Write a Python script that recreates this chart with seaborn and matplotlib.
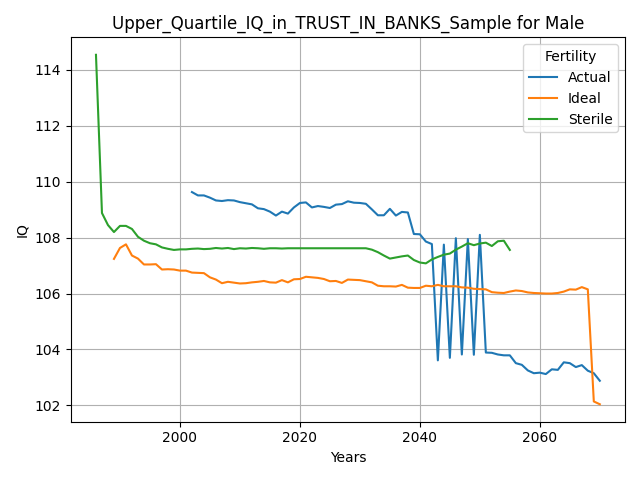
import matplotlib
matplotlib.use("Agg")
import matplotlib.pyplot as plt
import pandas as pd
import seaborn as sns

# values
actual_years = list(range(2002, 2071))
actual_iq = [109.63, 109.51, 109.51, 109.43, 109.33, 109.31, 109.34, 109.33, 109.27, 109.23,
             109.19, 109.05, 109.02, 108.93, 108.79, 108.93, 108.86, 109.08, 109.24, 109.26,
             109.08, 109.13, 109.10, 109.06, 109.18, 109.20, 109.30, 109.25, 109.24, 109.21,
             109.01, 108.80, 108.80, 109.03, 108.79, 108.92, 108.90, 108.13, 108.12, 107.86,
             107.77, 103.61, 107.75, 103.70, 107.98, 103.82, 107.95, 103.81, 108.10, 103.89,
             103.88, 103.82, 103.79, 103.79, 103.51, 103.45, 103.25, 103.15, 103.17, 103.12,
             103.29, 103.27, 103.54, 103.51, 103.37, 103.44, 103.24, 103.15, 102.88]

ideal_years = list(range(1989, 2071))
ideal_iq = [107.24, 107.63, 107.76, 107.36, 107.25, 107.04, 107.04, 107.05, 106.86, 106.87,
            106.86, 106.82, 106.82, 106.75, 106.74, 106.73, 106.58, 106.50, 106.37, 106.42,
            106.39, 106.36, 106.37, 106.40, 106.42, 106.45, 106.40, 106.39, 106.48, 106.40,
            106.51, 106.52, 106.60, 106.58, 106.56, 106.52, 106.44, 106.45, 106.38, 106.50,
            106.49, 106.48, 106.44, 106.40, 106.28, 106.26, 106.26, 106.25, 106.31, 106.21,
            106.20, 106.20, 106.28, 106.26, 106.31, 106.26, 106.26, 106.26, 106.22, 106.21,
            106.17, 106.16, 106.15, 106.05, 106.03, 106.02, 106.07, 106.11, 106.09, 106.04,
            106.02, 106.01, 106.00, 106.00, 106.02, 106.07, 106.15, 106.14, 106.23, 106.15,
            102.14, 102.04]

sterile_years = list(range(1986, 2056))
sterile_iq = [114.54, 108.88, 108.45, 108.20, 108.42, 108.42, 108.31, 108.03, 107.89, 107.80,
              107.76, 107.65, 107.60, 107.56, 107.58, 107.58, 107.60, 107.61, 107.59, 107.60,
              107.63, 107.61, 107.63, 107.59, 107.62, 107.61, 107.63, 107.62, 107.60, 107.62,
              107.62, 107.61, 107.62, 107.62, 107.62, 107.62, 107.62, 107.62, 107.62, 107.62,
              107.62, 107.62, 107.62, 107.62, 107.62, 107.62, 107.57, 107.48, 107.36, 107.25,
              107.29, 107.33, 107.36, 107.20, 107.11, 107.08, 107.22, 107.31, 107.39, 107.43,
              107.57, 107.68, 107.80, 107.73, 107.79, 107.82, 107.70, 107.87, 107.89, 107.56]

frames = []
for name, years, iq in [("Actual", actual_years, actual_iq),
                        ("Ideal", ideal_years, ideal_iq),
                        ("Sterile", sterile_years, sterile_iq)]:
    frames.append(pd.DataFrame({"Years": years, "IQ": iq, "Fertility": name}))
df = pd.concat(frames, ignore_index=True)

fig, ax = plt.subplots(figsize=(6.4, 4.8), dpi=100)
sns.lineplot(data=df, x="Years", y="IQ", hue="Fertility", palette="tab10", ax=ax)
ax.set_title("Upper_Quartile_IQ_in_TRUST_IN_BANKS_Sample for Male")
ax.grid(True)
ax.legend(title="Fertility", loc="upper right")
fig.tight_layout()
fig.savefig("out.png")
